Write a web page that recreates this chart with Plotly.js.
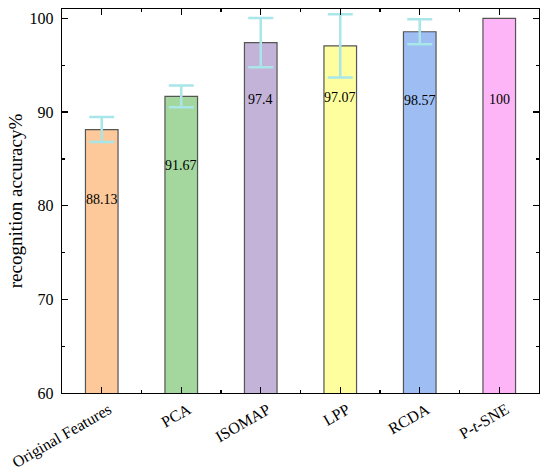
<!DOCTYPE html>
<html>
<head>
<meta charset="utf-8">
<script src="https://cdn.plot.ly/plotly-3.0.1.min.js"></script>
<style>html,body{margin:0;padding:0;background:#fff;}#chart{width:550px;height:472px;}</style>
</head>
<body>
<div id="chart"></div>
<script>
// ---- data ----
var categories = ["Original Features", "PCA", "ISOMAP", "LPP", "RCDA", "P-<i>t</i>-SNE"];
var accuracy = [88.13, 91.67, 97.4, 97.07, 98.57, 100];
var accuracyError = [1.33, 1.15, 2.63, 3.38, 1.33, NaN];
var valueLabels = ["88.13", "91.67", "97.4", "97.07", "98.57", "100"];
var barColors = ["#fdc99a", "#a3d79e", "#c4b3d8", "#fffe9e", "#9dbdf3", "#fdb5f7"];

// label placement inside bars (y in data units)
var labelY = [80.7, 84.25, 91.33, 91.6, 91.26, 91.33];

var idx = categories.map(function (c, i) { return i; });
var FONT = "Liberation Serif, Times New Roman, serif";

var trace = {
  type: "bar",
  x: idx,
  y: accuracy,
  width: 0.41,
  marker: { color: barColors, line: { color: "#555555", width: 1.2 } },
  error_y: { type: "data", array: accuracyError, visible: true, color: "#a8e6ea", thickness: 2.5, width: 12.5 },
  hoverinfo: "skip",
  base: 0
};

var annotations = idx.map(function (i) {
  return { x: i, y: labelY[i], xref: "x", yref: "y", text: valueLabels[i], showarrow: false,
           font: { family: FONT, size: 14, color: "#000" } };
});

var layout = {
  width: 550, height: 472,
  margin: { l: 62, r: 11, t: 9, b: 79 },
  paper_bgcolor: "#fff", plot_bgcolor: "#fff",
  showlegend: false,
  font: { family: FONT, color: "#000" },
  xaxis: {
    range: [-0.5, 5.5],
    tickmode: "array", tickvals: idx, ticktext: categories,
    tickangle: -30,
    ticklabelshift: 7,
    ticks: "inside", ticklen: 6, tickwidth: 1.3, tickcolor: "#000",
    minor: { tick0: 0.5, dtick: 1, ticks: "inside", ticklen: 3, tickwidth: 1.3, tickcolor: "#000" },
    showline: true, linecolor: "#000", linewidth: 1.3, mirror: "ticks",
    showgrid: false, zeroline: false,
    tickfont: { family: FONT, size: 16, color: "#000" }
  },
  yaxis: {
    range: [60, 101],
    tickmode: "linear", tick0: 60, dtick: 10,
    ticks: "inside", ticklen: 6, tickwidth: 1.3, tickcolor: "#000",
    minor: { tick0: 60, dtick: 5, ticks: "inside", ticklen: 3, tickwidth: 1.3, tickcolor: "#000" },
    showline: true, linecolor: "#000", linewidth: 1.3, mirror: "ticks",
    showgrid: false, zeroline: false,
    ticklabelstandoff: 4,
    tickfont: { family: FONT, size: 16, color: "#000" },
    title: { text: "recognition accuracy%", font: { family: FONT, size: 19, color: "#000" }, standoff: 2 }
  },
  annotations: annotations
};

Plotly.newPlot("chart", [trace], layout, { displayModeBar: false, staticPlot: true });
</script>
</body>
</html>
